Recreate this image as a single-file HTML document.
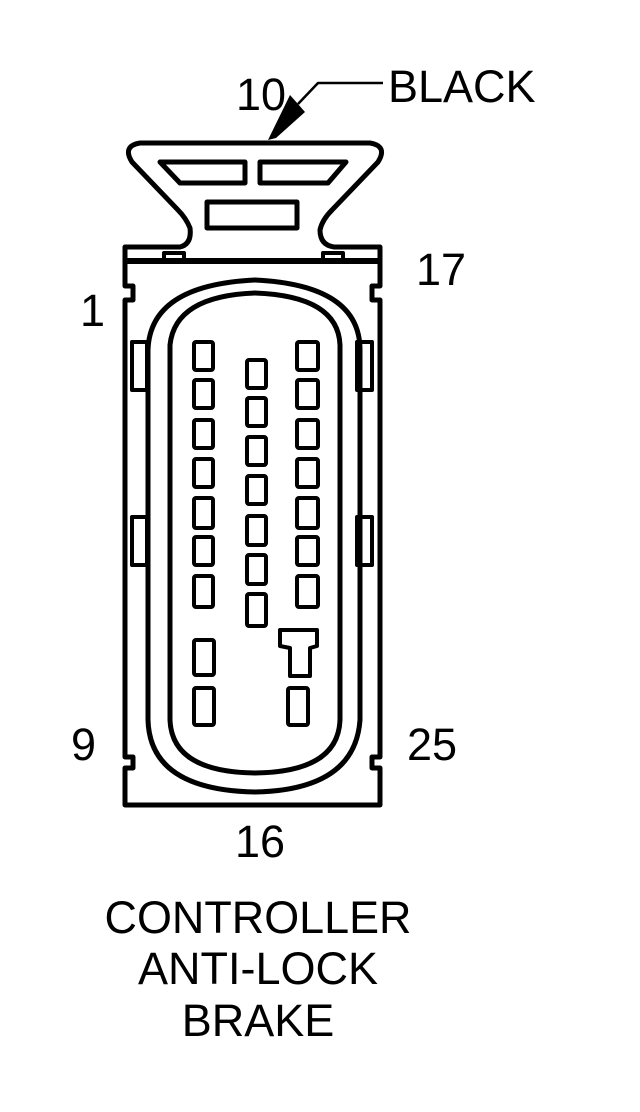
<!DOCTYPE html>
<html><head><style>
html,body{margin:0;padding:0;background:#fff;}
svg{display:block;}
text{font-family:"Liberation Sans",sans-serif;font-size:45px;fill:#000;}
</style></head><body>
<svg width="640" height="1112" viewBox="0 0 640 1112" xmlns="http://www.w3.org/2000/svg">
<g fill="none" stroke="#000" stroke-width="5" stroke-linejoin="round">
<path d="M125,805 L125,768 L133,768 L133,757 L125,757 L125,300 L133,300 L133,286 L125,286 L125,247 L180,247 Q192,244 190,228 Q186,218 178,210 L132,162 Q122,146 140,143 L370,143 Q388,146 378,162 L332,210 Q322,220 320,230 Q320,245 334,247 L380,247 L380,286 L372,286 L372,300 L380,300 L380,757 L372,757 L372,768 L380,768 L380,805 Z"/>
<line x1="125" y1="261" x2="380" y2="261" stroke-width="6"/>
<rect x="164" y="253" width="20" height="8" stroke-width="4"/>
<rect x="323" y="253" width="20" height="8" stroke-width="4"/>
<path d="M160,162 L245,162 L245,183 L180,183 Z" stroke-width="5"/>
<path d="M260,162 L346,162 L328,183 L260,183 Z" stroke-width="5"/>
<rect x="207" y="202" width="90" height="26"/>
<rect x="132" y="342" width="15" height="48" stroke-width="4"/>
<rect x="132" y="517" width="15" height="48" stroke-width="4"/>
<rect x="357" y="342" width="15" height="48" stroke-width="4"/>
<rect x="357" y="517" width="15" height="48" stroke-width="4"/>
<path d="M148,720 L148,350 Q150,285 255,280 Q360,285 360,350 L360,720 Q355,790 255,792 Q150,790 148,720 Z"/>
<path d="M170,720 L170,345 Q175,296 255,293 Q338,296 340,345 L340,720 Q338,772 255,773 Q172,772 170,720 Z"/>
<g stroke-width="4">
<rect x="194" y="342" width="19" height="28" rx="2"/>
<rect x="194" y="380" width="19" height="28" rx="2"/>
<rect x="194" y="420" width="19" height="28" rx="2"/>
<rect x="194" y="459" width="19" height="28" rx="2"/>
<rect x="194" y="498" width="19" height="30" rx="2"/>
<rect x="194" y="537" width="19" height="28" rx="2"/>
<rect x="194" y="576" width="19" height="31" rx="2"/>
<rect x="194" y="640" width="20" height="35" rx="2"/>
<rect x="194" y="688" width="20" height="37" rx="2"/>
<rect x="247" y="360" width="19" height="28" rx="2"/>
<rect x="247" y="398" width="19" height="28" rx="2"/>
<rect x="247" y="437" width="19" height="28" rx="2"/>
<rect x="247" y="476" width="19" height="28" rx="2"/>
<rect x="247" y="516" width="19" height="29" rx="2"/>
<rect x="247" y="555" width="19" height="29" rx="2"/>
<rect x="247" y="594" width="19" height="32" rx="2"/>
<rect x="297" y="342" width="21" height="28" rx="2"/>
<rect x="297" y="380" width="21" height="28" rx="2"/>
<rect x="297" y="420" width="21" height="28" rx="2"/>
<rect x="297" y="459" width="21" height="28" rx="2"/>
<rect x="297" y="498" width="21" height="30" rx="2"/>
<rect x="297" y="537" width="21" height="28" rx="2"/>
<rect x="297" y="576" width="21" height="31" rx="2"/>
<path d="M280,630 L317,630 L317,646 L310,648 L310,676 L290,676 L290,648 L280,646 Z"/>
<rect x="288" y="688" width="20" height="37" rx="2"/>
</g>
<path d="M383,83 L318,83 L298,104" stroke-width="2.5"/>
</g>
<path d="M290,95 L305,112 L276,138 L268,140 Z" fill="#000"/>
<text x="236" y="110">10</text>
<text x="388" y="102">BLACK</text>
<text x="416" y="285">17</text>
<text x="80" y="326">1</text>
<text x="71" y="760">9</text>
<text x="407" y="760">25</text>
<text x="235" y="857">16</text>
<text x="258" y="933" text-anchor="middle" textLength="307" lengthAdjust="spacingAndGlyphs">CONTROLLER</text>
<text x="258" y="984" text-anchor="middle">ANTI-LOCK</text>
<text x="258" y="1036" text-anchor="middle">BRAKE</text>
</svg>
</body></html>
